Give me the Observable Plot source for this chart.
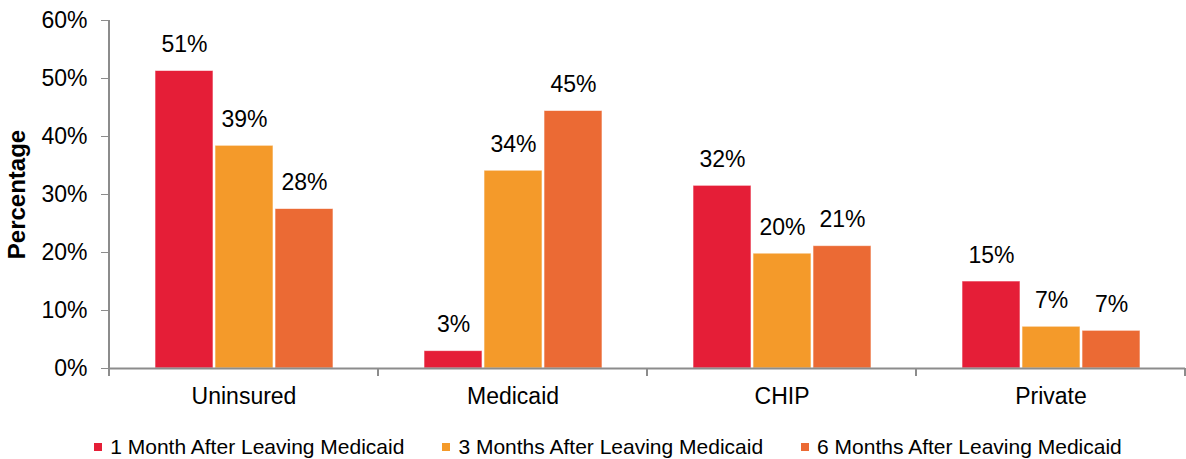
<!DOCTYPE html>
<html>
<head>
<meta charset="utf-8">
<script src="https://cdn.jsdelivr.net/npm/d3@7"></script>
<script src="https://cdn.jsdelivr.net/npm/@observablehq/plot@0.6"></script>
<style>
  body { margin: 0; background: #fff; font-family: "Liberation Sans", Arial, sans-serif; }
  #chart svg { display: block; }
  g[aria-label="y-axis label"] text { font-weight: bold; font-size: 24px; }
  .legend { display: flex; justify-content: center; gap: 38px; margin-top: 17px; padding-left: 30px;
            font-size: 21px; color: #000; line-height: 24px; }
  .legend .item { display: flex; align-items: center; gap: 8px; }
  .legend .sw { width: 8px; height: 8px; display: inline-block; }
</style>
</head>
<body>
<div id="chart"></div>
<div class="legend" id="legend"></div>
<script>
const categories = ["Uninsured", "Medicaid", "CHIP", "Private"];
const series = ["1 Month After Leaving Medicaid", "3 Months After Leaving Medicaid", "6 Months After Leaving Medicaid"];
const colors = ["#E51E37", "#F49A2A", "#EB6A34"];
const month1 = [51.3, 3.0, 31.5, 15.0];
const month3 = [38.4, 34.1, 19.8, 7.2];
const month6 = [27.5, 44.4, 21.1, 6.5];
const label1 = [51, 3, 32, 15];
const label3 = [39, 34, 20, 7];
const label6 = [28, 45, 21, 7];
const yTicks = [0, 10, 20, 30, 40, 50, 60];

const values = [month1, month3, month6];
const labels = [label1, label3, label6];
const data = [];
categories.forEach((c, i) => series.forEach((s, j) => data.push({category: c, series: s, value: values[j][i], label: labels[j][i]})));

const axisGray = "#8C8C8C";
const chart = Plot.plot({
  width: 1186,
  height: 418,
  marginLeft: 107,
  marginRight: 0,
  marginTop: 20,
  marginBottom: 50,
  style: {fontFamily: "'Liberation Sans', Arial, sans-serif", fontSize: "23px", color: "#000", background: "#fff"},
  fx: {domain: categories, padding: 0},
  x: {domain: series, paddingInner: 0.04, paddingOuter: 0.76, axis: null},
  y: {domain: [0, 60]},
  color: {domain: series, range: colors},
  marks: [
    Plot.barY(data, {fx: "category", x: "series", y: "value", fill: "series", stroke: "#fff", strokeOpacity: 0.6, strokeWidth: 1}),
    Plot.text(data, {fx: "category", x: "series", y: "value", text: d => d.label + "%", dy: -26, fontSize: 23, fill: "#000"}),
    Plot.ruleY([0], {stroke: axisGray, strokeWidth: 2}),
    Plot.axisY({ticks: yTicks, tickFormat: d => d + "%", tickSize: 8, tickPadding: 14, stroke: axisGray, fill: "#000", fontSize: 23,
                label: "Percentage", labelAnchor: "center", labelArrow: "none", labelOffset: 102}),
    Plot.axisFx({anchor: "bottom", tickSize: 0, tickPadding: 19, fontSize: 23, label: null, fill: "#000"})
  ]
});
document.getElementById("chart").appendChild(chart);

// left axis line and category-boundary ticks, positioned from the library's scales
const fx = chart.scale("fx");
const y = chart.scale("y");
const svg = d3.select(chart);
const y0 = y.apply(0), yTop = y.apply(60);
const left = fx.apply(categories[0]);
svg.append("line").attr("x1", left).attr("x2", left).attr("y1", yTop).attr("y2", y0 + 8)
  .attr("stroke", axisGray).attr("stroke-width", 2);
const bounds = categories.map(c => fx.apply(c)).concat([fx.apply(categories[categories.length - 1]) + fx.bandwidth]);
svg.append("g").selectAll("line").data(bounds).join("line")
  .attr("x1", d => d).attr("x2", d => d).attr("y1", y0).attr("y2", y0 + 8)
  .attr("stroke", axisGray).attr("stroke-width", 2);

const legend = d3.select("#legend");
series.forEach((s, i) => {
  const item = legend.append("div").attr("class", "item");
  item.append("span").attr("class", "sw").style("background", colors[i]);
  item.append("span").text(s);
});
</script>
</body>
</html>
